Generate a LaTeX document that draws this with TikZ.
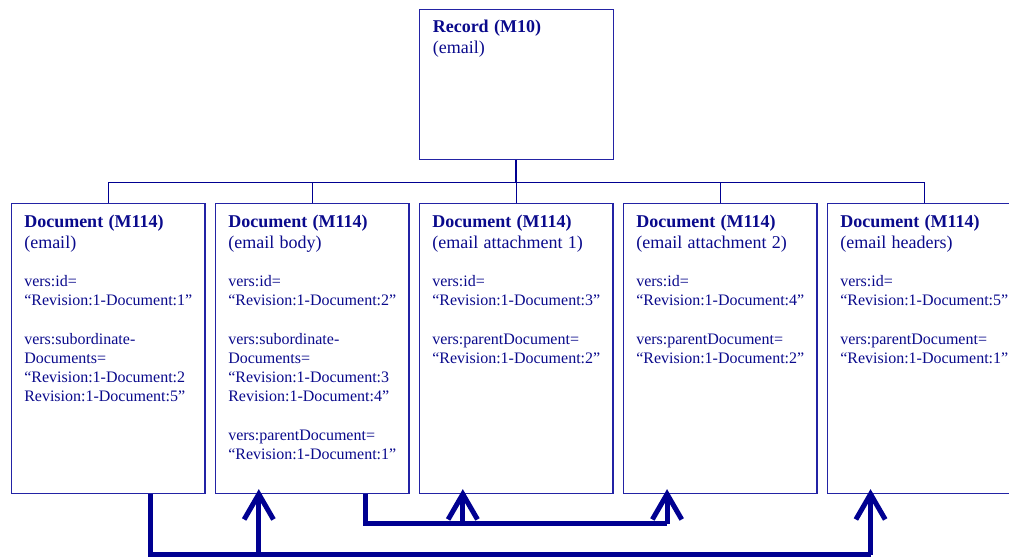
\documentclass[tikz,border=0pt]{standalone}
\usepackage{fontspec}
\setmainfont{Liberation Serif}
\usetikzlibrary{arrows.meta,calc}
\definecolor{ink}{RGB}{0,0,145}
\definecolor{frame}{RGB}{35,35,165}
\definecolor{textink}{RGB}{10,10,140}
% heading of a box: bold name and the kind of item below it
\newcommand{\boxhead}[2]{{\fontsize{13.5}{14.4}\selectfont\textbf{#1}}\\[1.35pt]{\fontsize{13.5}{14.4}\selectfont #2}}
\begin{document}
\begin{tikzpicture}[x=0.75pt,y=-0.75pt,
  box/.style={draw=frame, line width=0.85pt, fill=white, inner sep=0pt,
    anchor=north west, minimum width=145.1pt, minimum height=217.5pt},
  recbox/.style={box, minimum width=145.5pt, minimum height=112.5pt},
  txt/.style={anchor=base west, inner sep=0pt, text width=140pt, align=left,
    text=textink, font=\fontsize{12}{14.4}\selectfont},
  tree/.style={draw=ink, line width=0.9pt},
  flow/.style={draw=ink, line width=3.75pt, line join=miter, line cap=butt,
    -{Straight Barb[length=19pt,width=22pt]}},
  flowline/.style={draw=ink, line width=3.75pt, line join=miter, line cap=butt}]
\useasboundingbox (0,0) rectangle (1009,557);
\clip (0,0) rectangle (1009,557);

% record and its documents
\node[recbox] (rec) at (418.5,9.3) {};
\node[box] (d1) at (11,203) {};
\node[box] (d2) at (215,203) {};
\node[box] (d3) at (419,203) {};
\node[box] (d4) at (623,203) {};
\node[box] (d5) at (827,203) {};

% hierarchy lines
\foreach \d in {d1,d2,d3,d4,d5}
  \draw[tree] (rec.south) -- ++(0,22) -| (\d.north);

% texts
\node[txt] (trec) at ($(rec.north west)+(14,23.5)$)
  {\boxhead{Record (M10)}{(email)}};
\node[txt] (t1) at ($(d1.north west)+(13,24)$)
  {\boxhead{Document (M114)}{(email)}\\[14.4pt]
   vers:id=\\“Revision:1-Document:1”\\[14.4pt]
   vers:subordinate-\\Documents=\\“Revision:1-Document:2\\Revision:1-Document:5”};
\node[txt] (t2) at ($(d2.north west)+(13,24)$)
  {\boxhead{Document (M114)}{(email body)}\\[14.4pt]
   vers:id=\\“Revision:1-Document:2”\\[14.4pt]
   vers:subordinate-\\Documents=\\“Revision:1-Document:3\\Revision:1-Document:4”\\[14.4pt]
   vers:parentDocument=\\“Revision:1-Document:1”};
\node[txt] (t3) at ($(d3.north west)+(13,24)$)
  {\boxhead{Document (M114)}{(email attachment 1)}\\[14.4pt]
   vers:id=\\“Revision:1-Document:3”\\[14.4pt]
   vers:parentDocument=\\“Revision:1-Document:2”};
\node[txt] (t4) at ($(d4.north west)+(13,24)$)
  {\boxhead{Document (M114)}{(email attachment 2)}\\[14.4pt]
   vers:id=\\“Revision:1-Document:4”\\[14.4pt]
   vers:parentDocument=\\“Revision:1-Document:2”};
\node[txt] (t5) at ($(d5.north west)+(13,24)$)
  {\boxhead{Document (M114)}{(email headers)}\\[14.4pt]
   vers:id=\\“Revision:1-Document:5”\\[14.4pt]
   vers:parentDocument=\\“Revision:1-Document:1”};

% reference links between documents
\coordinate (out1) at ($(d1.south)+(42.25,0)$);
\coordinate (out2) at ($(d2.south)+(53.25,0)$);
\coordinate (in2) at ($(d2.south)+(-53.5,-5)$);
\coordinate (in3) at ($(d3.south)+(-53.5,-5)$);
\coordinate (in4) at ($(d4.south)+(-53.25,-5)$);
\coordinate (in5) at ($(d5.south)+(-53.75,-5)$);
\coordinate (busA) at (0,554.5);
\coordinate (busB) at (0,523.5);

\draw[flowline] (out1) |- (in5 |- busA);
\draw[flow] (in5 |- busA) -- (in5);
\draw[flow] (in2 |- busA) -- (in2);
\draw[flowline] (out2) |- (in4 |- busB);
\draw[flow] (in4 |- busB) -- (in4);
\draw[flow] (in3 |- busB) -- (in3);
\end{tikzpicture}
\end{document}
